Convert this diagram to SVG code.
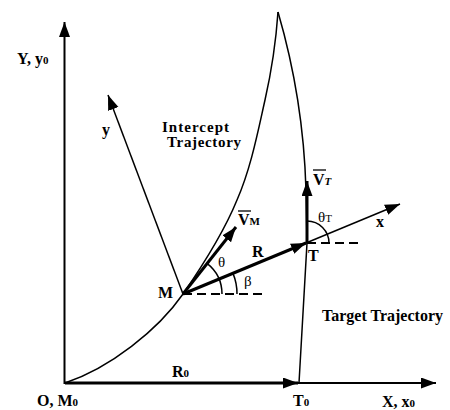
<svg xmlns="http://www.w3.org/2000/svg" width="450" height="410" viewBox="0 0 450 410">
<style>
text{font-family:"Liberation Serif","Times New Roman",serif;font-weight:bold;font-size:16px;fill:#000}
.sub{font-size:11px}
.greek{font-weight:normal;font-size:15px}
.lbl{font-size:15px}
.line{fill:none;stroke:#000;stroke-width:1.5}
.axis{fill:none;stroke:#000;stroke-width:2}
.thick{fill:none;stroke:#000;stroke-width:3}
.dash{fill:none;stroke:#000;stroke-width:1.8;stroke-dasharray:9,5}
.ov{stroke:#000;stroke-width:1.3}
</style>
<defs>
<marker id="ah" markerUnits="userSpaceOnUse" markerWidth="16" markerHeight="12" refX="15" refY="5.5" orient="auto"><path d="M0,0 L15,5.5 L0,11 z" fill="#000"/></marker>
</defs>
<g id="trajectories">
<path id="intercept-trajectory" class="line" d="M65,383 C110,368 158,330 183,294 C203,265 224,232 237,200 C251,168 258,131 265,100 C272,69 276,41 278,12"/>
<path id="target-trajectory" class="line" d="M278,12 C292,60 304,120 306,190 L307,243 L299,383"/>
</g>
<g id="connectors">
<line id="Y-axis" class="axis" x1="64.5" y1="384" x2="64.5" y2="22" marker-end="url(#ah)"/>
<line id="X-axis" class="axis" x1="64" y1="383" x2="436" y2="383" marker-end="url(#ah)"/>
<line id="R0" class="thick" x1="65" y1="383" x2="298" y2="383" marker-end="url(#ah)"/>
<line id="y-body" class="line" x1="183" y1="294" x2="108" y2="95" marker-end="url(#ah)"/>
<line id="x-body" class="line" x1="183" y1="294" x2="400" y2="204" marker-end="url(#ah)"/>
<line id="R" class="thick" x1="183" y1="294" x2="306" y2="243" marker-end="url(#ah)"/>
<line id="VM" class="thick" x1="183" y1="294" x2="236" y2="227" marker-end="url(#ah)"/>
<line id="VT" class="thick" x1="307" y1="243" x2="307" y2="181" marker-end="url(#ah)"/>
<line class="dash" x1="183" y1="294" x2="267" y2="294"/>
<line class="dash" x1="307" y1="243" x2="358" y2="243" stroke-dasharray="12,5"/>
<path id="theta-arc" class="line" d="M222,294 A39,39 0 0 0 207,263.3"/>
<path id="beta-arc" class="line" d="M237,294 A54,54 0 0 0 233,273.4"/>
<path id="thetaT-arc" class="line" d="M307,221 A22,22 0 0 1 329,243"/>
</g>
<g id="labels">
<text x="17" y="64">Y, y<tspan class="sub">0</tspan></text>
<text x="102" y="135">y</text>
<text class="lbl" x="162" y="132" textLength="67" lengthAdjust="spacing">Intercept</text>
<text class="lbl" x="167" y="147" textLength="74" lengthAdjust="spacing">Trajectory</text>
<text x="238" y="225">V<tspan class="sub">M</tspan></text>
<line class="ov" x1="238" y1="211" x2="251" y2="211"/>
<text x="313" y="185">V<tspan class="sub" font-style="italic">T</tspan></text>
<line class="ov" x1="313" y1="170" x2="326" y2="170"/>
<text class="greek" x="318" y="222">θ<tspan class="sub">T</tspan></text>
<text x="376" y="227">x</text>
<text x="252" y="257">R</text>
<text class="greek" x="218" y="267">θ</text>
<text class="greek" x="244" y="286">β</text>
<text x="158" y="298">M</text>
<text x="308" y="261">T</text>
<text x="322" y="321">Target Trajectory</text>
<text x="172" y="377">R<tspan class="sub">0</tspan></text>
<text x="37" y="406">O,  M<tspan class="sub">0</tspan></text>
<text x="293" y="406">T<tspan class="sub">0</tspan></text>
<text x="382" y="407">X,  x<tspan class="sub">0</tspan></text>
</g>
</svg>
